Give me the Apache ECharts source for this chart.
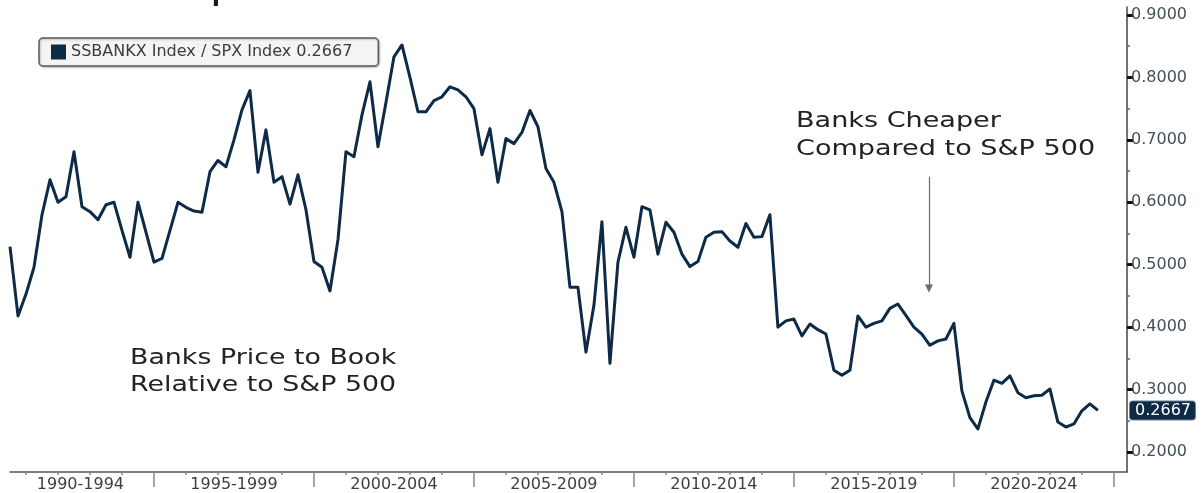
<!DOCTYPE html>
<html>
<head>
<meta charset="utf-8">
<script src="https://cdn.jsdelivr.net/npm/echarts@6/dist/echarts.min.js"></script>
<style>
html,body{margin:0;padding:0;background:#fff;}
#chart{width:1203px;height:493px;}
</style>
</head>
<body>
<div id="chart"></div>
<script>
// ---- data ----
const seriesName = 'SSBANKX Index / SPX Index';
const firstQuarter = 1990.5;      // decimal year of first observation
const quarterStep = 0.25;         // quarterly observations
const ratioValues = [
  0.529,0.418,0.453,0.496,0.580,0.636,0.600,0.609,0.681,0.593,
  0.585,0.572,0.596,0.600,0.555,0.512,0.600,0.552,0.504,0.510,
  0.555,0.600,0.592,0.586,0.584,0.649,0.667,0.657,0.700,0.748,
  0.779,0.648,0.716,0.632,0.641,0.597,0.644,0.588,0.505,0.496,
  0.458,0.540,0.681,0.673,0.740,0.793,0.689,0.760,0.833,0.852,
  0.800,0.745,0.745,0.763,0.769,0.785,0.780,0.769,0.750,0.676,
  0.718,0.632,0.702,0.694,0.712,0.747,0.721,0.654,0.632,0.585,
  0.464,0.464,0.360,0.435,0.569,0.342,0.504,0.560,0.512,0.593,
  0.588,0.517,0.568,0.552,0.517,0.497,0.505,0.544,0.552,0.553,
  0.538,0.528,0.566,0.544,0.545,0.580,0.400,0.410,0.413,0.386,
  0.405,0.396,0.389,0.331,0.323,0.331,0.418,0.400,0.406,0.410,
  0.430,0.437,0.419,0.400,0.389,0.371,0.378,0.381,0.406,0.298,
  0.255,0.237,0.280,0.315,0.310,0.322,0.295,0.287,0.290,0.291,
  0.301,0.248,0.240,0.245,0.266,0.277,0.2667
];
const periodLabels = ['1990-1994','1995-1999','2000-2004','2005-2009','2010-2014','2015-2019','2020-2024'];
const periodCenters = [1992.7,1997.5,2002.5,2007.5,2012.5,2017.5,2022.5];
const periodBounds = [1995,2000,2005,2010,2015,2020,2025];
const yearTicks = [1991,1992,1993,1994,1996,1997,1998,1999,2001,2002,2003,2004,2006,2007,2008,2009,2011,2012,2013,2014,2016,2017,2018,2019,2021,2022,2023,2024];
const yTickValues = [0.2,0.3,0.4,0.5,0.6,0.7,0.8,0.9];
const yMinorValues = [0.25,0.35,0.45,0.55,0.65,0.75,0.85];
const titleText = 'Banks Cheapest Relative to S&P 500 in Three Decades';
const noteLeft = ['Banks Price to Book', 'Relative to S&P 500'];
const noteRight = ['Banks Cheaper', 'Compared to S&P 500'];
const arrowFrom = [2019.22, 0.641];
const arrowTo = [2019.22, 0.462];

// ---- build ----
const lastValue = ratioValues[ratioValues.length - 1];
const seriesData = ratioValues.map((v, i) => [firstQuarter + i * quarterStep, v]);
const X_MIN = firstQuarter, X_MAX = 2025.41;
const Y_MIN = 0.168, Y_MAX = 0.9128;
const navy = '#0d2a47';

const chart = echarts.init(document.getElementById('chart'), null, {renderer: 'canvas'});
chart.setOption({
  animation: false,
  backgroundColor: '#ffffff',
  grid: {left: 10, right: 76, top: 7, bottom: 20, containLabel: false},
  legend: {
    left: 39, top: 38,
    data: [seriesName],
    formatter: n => n + ' ' + lastValue.toFixed(4),
    icon: 'rect', itemWidth: 15, itemHeight: 15, itemGap: 6,
    padding: [6, 26, 6, 12],
    backgroundColor: '#f4f4f4',
    borderColor: '#5a5a5a', borderWidth: 1.5, borderRadius: 4,
    shadowColor: 'rgba(0,0,0,0.25)', shadowBlur: 2, shadowOffsetX: 1, shadowOffsetY: 1,
    textStyle: {fontFamily: 'DejaVu Sans', fontSize: 16, color: '#3b3b3b'},
    selectedMode: false
  },
  xAxis: [{
    type: 'value', min: X_MIN, max: X_MAX,
    splitLine: {show: false},
    axisLine: {show: true, onZero: false, lineStyle: {color: '#555', width: 1.5}},
    axisTick: {show: true, customValues: periodBounds, length: 15, lineStyle: {color: '#888', width: 1.5}},
    axisLabel: {show: true, customValues: periodCenters, margin: 5,
      formatter: v => periodLabels[periodCenters.indexOf(v)] || '',
      fontFamily: 'DejaVu Sans', fontSize: 16, color: '#3e3e3e'}
  }, {
    type: 'value', min: X_MIN, max: X_MAX, position: 'bottom',
    splitLine: {show: false},
    axisLine: {show: false},
    axisTick: {show: true, customValues: yearTicks, length: 3, lineStyle: {color: '#888', width: 1.5}},
    axisLabel: {show: false}
  }],
  yAxis: [{
    type: 'value', position: 'right', min: Y_MIN, max: Y_MAX,
    splitLine: {show: false},
    axisLine: {show: true, lineStyle: {color: '#444', width: 1.5}},
    axisTick: {show: true, customValues: yTickValues, inside: false, length: 6, lineStyle: {color: '#111', width: 3}},
    axisLabel: {show: true, customValues: yTickValues, margin: 4,
      formatter: v => v.toFixed(4),
      fontFamily: 'DejaVu Sans', fontSize: 16, color: '#454f5a'},
    axisPointer: {
      show: true, value: lastValue, status: 'show', triggerTooltip: false,
      lineStyle: {opacity: 0},
      label: {show: true, formatter: p => Number(p.value).toFixed(4), backgroundColor: navy,
        color: '#fff', fontFamily: 'DejaVu Sans', fontSize: 16, padding: [1, 4, 1, 5], margin: 3,
        borderColor: '#6d7f92', borderWidth: 1},
      handle: {show: false}
    }
  }, {
    type: 'value', position: 'right', min: Y_MIN, max: Y_MAX,
    splitLine: {show: false},
    axisLine: {show: false},
    axisTick: {show: true, customValues: yMinorValues, length: 3, lineStyle: {color: '#666', width: 1.5}},
    axisLabel: {show: false}
  }],
  series: [{
    name: seriesName,
    type: 'line',
    data: seriesData,
    showSymbol: false,
    symbol: 'none',
    lineStyle: {color: navy, width: 3, join: 'round'},
    itemStyle: {color: navy},
    markLine: {
      silent: true,
      symbol: ['none', 'triangle'], symbolSize: 8, symbolRotate: 180,
      label: {show: false},
      lineStyle: {color: '#6a6a6a', width: 1.2, type: 'solid'},
      data: [[{coord: arrowFrom}, {coord: arrowTo}]]
    }
  }],
  graphic: [
    {type: 'text', x: 40, y: -23, style: {text: titleText, font: 'bold 30px "Liberation Sans"', fill: '#1a1a1a'}},
    {type: 'text', x: 130, y: 345, scaleX: 1.22, style: {text: noteLeft.join('\n'), font: '22px "DejaVu Sans"', lineHeight: 27, fill: '#222'}},
    {type: 'text', x: 796, y: 107, scaleX: 1.23, style: {text: noteRight.join('\n'), font: '22px "DejaVu Sans"', lineHeight: 28, fill: '#222'}}
  ]
});
</script>
</body>
</html>
